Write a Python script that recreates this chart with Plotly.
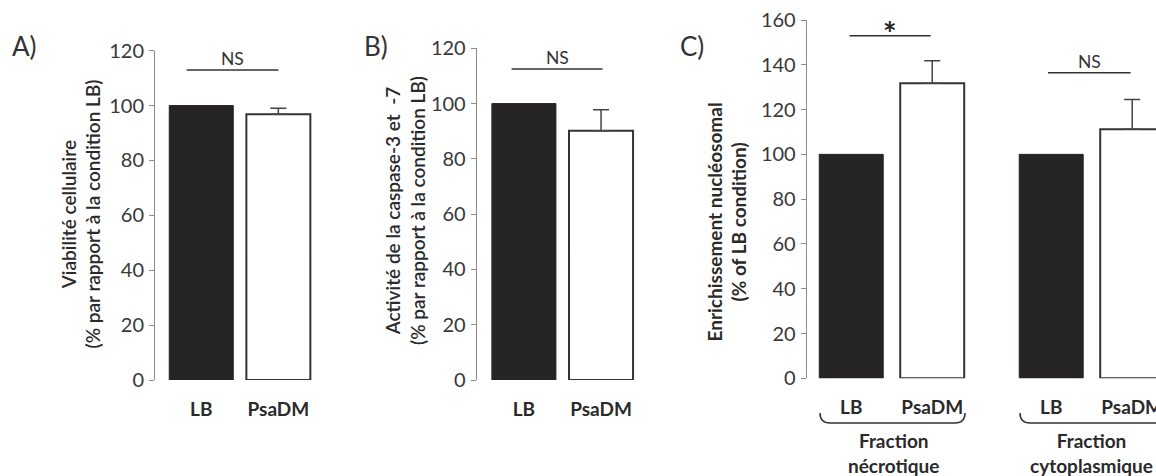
import plotly.graph_objects as go

W, H = 1156, 476

categories = ["LB", "PsaDM"]

# Panel A: cell viability
a_values = [100, 96.8]
a_err = [0, 2.2]
# Panel B: caspase-3/-7 activity
b_values = [100, 90.2]
b_err = [0, 7.6]
# Panel C: nucleosomal enrichment
c_necro_values = [100, 131.8]
c_necro_err = [0, 10.0]
c_cyto_values = [100, 111.2]
c_cyto_err = [0, 13.3]

sig_labels = ["NS", "NS", "*", "NS"]
sig_levels = [113, 112.5, 153, 136.5]

yticks_ab = [0, 20, 40, 60, 80, 100, 120]
yticks_c = [0, 20, 40, 60, 80, 100, 120, 140, 160]

FONT = "Lato"
DARK = "#262425"
AXC = "#8a8a8a"
TXT = "#383838"


def px(x):
    return x / W


def py(y):
    return 1 - y / H


fig = go.Figure()

panels = [
    ("x", "y", a_values, a_err, 0.83),
    ("x2", "y2", b_values, b_err, 0.83),
    ("x3", "y3", c_necro_values, c_necro_err, 0.79),
    ("x4", "y3", c_cyto_values, c_cyto_err, 0.79),
]

for xa, ya, vals, errs, bw in panels:
    # LB bar (black)
    fig.add_trace(go.Bar(
        x=categories[:1], y=vals[:1], xaxis=xa, yaxis=ya, width=bw,
        marker=dict(color=DARK, line=dict(color=DARK, width=1)),
        showlegend=False, hoverinfo="skip",
    ))
    # PsaDM bar (white, with error bar)
    fig.add_trace(go.Bar(
        x=categories[1:], y=vals[1:], xaxis=xa, yaxis=ya, width=bw,
        marker=dict(color="white", line=dict(color="#333333", width=2)),
        error_y=dict(type="data", symmetric=False, array=errs[1:], arrayminus=[0],
                     color="#444444", thickness=1.5, width=8),
        showlegend=False, hoverinfo="skip",
    ))

xcommon = dict(type="category", showline=False, showgrid=False, zeroline=False,
               ticks="", tickfont=dict(family=FONT, size=19, color="#2a2a2a", weight="bold"),
               ticklabelstandoff=16, fixedrange=True, automargin=False)
ycommon = dict(showline=True, linecolor=AXC, linewidth=1, showgrid=False, zeroline=False,
               ticks="outside", ticklen=5, tickcolor=AXC, tickwidth=1,
               tickfont=dict(family=FONT, size=20, color=TXT), ticklabelstandoff=1,
               fixedrange=True, automargin=False)

fig.update_layout(
    width=W, height=H, autosize=False,
    margin=dict(l=0, r=0, t=0, b=0, pad=0),
    paper_bgcolor="white", plot_bgcolor="rgba(0,0,0,0)",
    barmode="overlay",
    xaxis=dict(domain=[px(155), px(320)], range=[-0.60, 1.54], anchor="y", **xcommon),
    yaxis=dict(domain=[py(380), py(50.7)], range=[0, 120], tickvals=yticks_ab, anchor="x", **ycommon),
    xaxis2=dict(domain=[px(476.7), px(645)], range=[-0.612, 1.57], anchor="y2", **xcommon),
    yaxis2=dict(domain=[py(380), py(48.3)], range=[0, 120], tickvals=yticks_ab, anchor="x2", **ycommon),
    xaxis3=dict(domain=[px(806.7), px(980)], range=[-0.55, 1.59], anchor="y3", **xcommon),
    yaxis3=dict(domain=[py(378.3), py(20)], range=[0, 160], tickvals=yticks_c, anchor="x3", **ycommon),
    xaxis4=dict(domain=[px(990), 1.0], range=[-0.756, 1.294], anchor="y3", **xcommon),
)

# significance lines and labels
sig_spans = [(-0.19, 1.0), (-0.16, 1.02), (-0.02, 0.98), (-0.04, 0.98)]
sig_axes = [("x", "y"), ("x2", "y2"), ("x3", "y3"), ("x4", "y3")]
for (xa, ya), (s0, s1), lvl, lab in zip(sig_axes, sig_spans, sig_levels, sig_labels):
    fig.add_shape(type="line", xref=xa, yref=ya, x0=s0, x1=s1, y0=lvl, y1=lvl,
                  line=dict(color="#333333", width=1.5))
    if lab == "*":
        fig.add_annotation(x=(s0 + s1) / 2, y=lvl, xref=xa, yref=ya, text=lab,
                           showarrow=False, xanchor="center", yanchor="bottom", yshift=-19,
                           font=dict(family=FONT, size=32, color="#222222", weight="bold"))
    else:
        fig.add_annotation(x=(s0 + s1) / 2, y=lvl, xref=xa, yref=ya, text=lab,
                           showarrow=False, xanchor="center", yanchor="bottom", yshift=-1,
                           font=dict(family=FONT, size=17.5, color="#333333"))

# panel letters
for lab, xx, yy in [("A)", 24, 46), ("B)", 376, 46), ("C)", 692, 46)]:
    fig.add_annotation(x=px(xx), y=py(yy), xref="paper", yref="paper", text=lab,
                       showarrow=False, xanchor="center", yanchor="middle",
                       font=dict(family=FONT, size=26, color="#333333"))

# y-axis titles
ytitles = [
    ("Viabilité cellulaire<br>(% par rapport à la condition LB)", 80.5, 214, 600),
    ("Activité de la caspase-3 et\u00a0 -7<br>(% par rapport à la condition LB)", 405, 211, 600),
    ("Enrichissement nucléosomal<br>(% of LB condition)", 726.5, 222, 700),
]
for txt, xx, yy, wt in ytitles:
    fig.add_annotation(x=px(xx), y=py(yy), xref="paper", yref="paper", text=txt,
                       textangle=-90, showarrow=False, xanchor="center", yanchor="middle",
                       font=dict(family=FONT, size=19, color="#2a2a2a", weight=wt))

# group brackets and labels
def bracket(x0, x1, ytop, ybot, r):
    return (f"M {px(x0)} {py(ytop)} Q {px(x0)} {py(ybot)} {px(x0 + r)} {py(ybot)} "
            f"L {px(x1 - r)} {py(ybot)} Q {px(x1)} {py(ybot)} {px(x1)} {py(ytop)}")

for x0, x1 in [(820, 965), (1020, 1168)]:
    fig.add_shape(type="path", xref="paper", yref="paper", path=bracket(x0, x1, 413, 423, 10),
                  line=dict(color="#333333", width=1.5))

for txt, xx in [("Fraction<br>nécrotique", 893), ("Fraction<br>cytoplasmique", 1091)]:
    fig.add_annotation(x=px(xx), y=py(453), xref="paper", yref="paper", text=txt,
                       showarrow=False, xanchor="center", yanchor="middle",
                       font=dict(family=FONT, size=19, color="#2a2a2a", weight="bold"))

fig.write_html("out.html")
